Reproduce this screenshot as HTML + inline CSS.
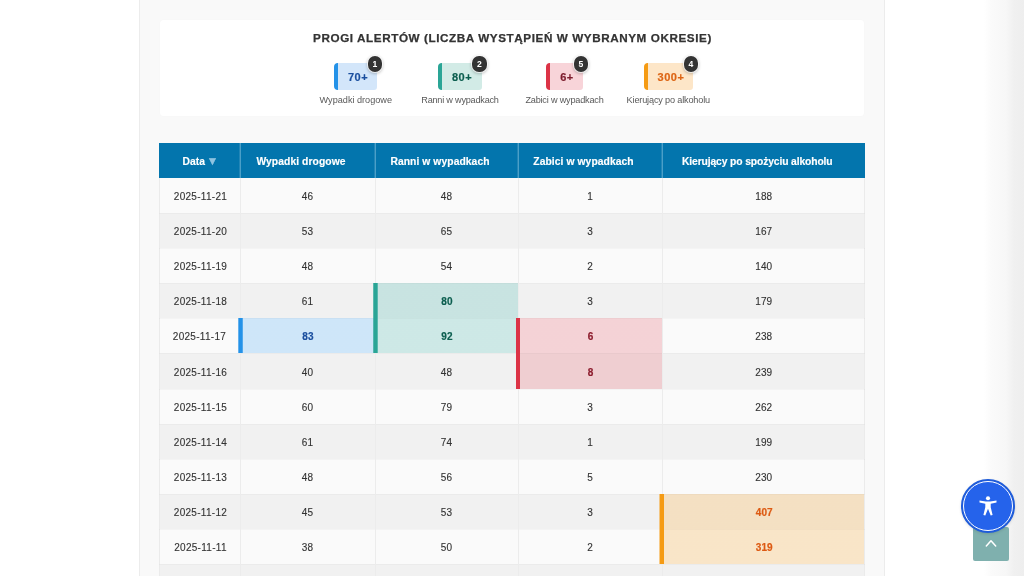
<!DOCTYPE html>
<html lang="pl">
<head>
<meta charset="utf-8">
<title>Progi alertów</title>
<style>
*{box-sizing:border-box;margin:0;padding:0}
html,body{width:1024px;height:576px;overflow:hidden;background:#fff}
body{font-family:"Liberation Sans",sans-serif;color:#333;position:relative}
.edge{position:absolute;right:0;top:0;width:40px;height:576px;background:linear-gradient(to right,#fff 0,#fafafa 8px,#f7f7f7 22px,#f0f0f0 30px,#eee 40px)}
.wrap{position:absolute;left:139px;top:-10px;width:746px;height:600px;background:#f9f9f9;border:1px solid #ececec}
.card{position:absolute;left:160px;top:20px;width:704px;height:96px;background:#fff;border-radius:3.5px;box-shadow:0 0 2px rgba(0,0,0,.02)}
.title{position:absolute;left:160px;width:704px;top:29.6px;text-align:center;font-weight:bold;font-size:11.7px;letter-spacing:.58px;padding-left:1px;-webkit-text-stroke:.25px;color:#333;line-height:16px;white-space:nowrap}
.th{position:absolute;top:63px;height:27px;border-left:4px solid;border-radius:4px 3px 3px 4px;font-weight:bold;font-size:11px;line-height:29px;text-align:center;letter-spacing:.5px;padding-left:1px;-webkit-text-stroke:.2px}
.th i{position:absolute;right:-5.2px;top:-7.1px;width:14.6px;height:16.2px;border-radius:7px;background:#333;color:#fff;font-style:normal;font-size:8.6px;line-height:17.2px;text-align:center;letter-spacing:0;padding:0;-webkit-text-stroke:0;box-shadow:0 0 0 1px rgba(255,255,255,.7),0 1px 3px 1px rgba(0,0,0,.22)}
.lb{position:absolute;top:94.4px;width:140px;text-align:center;font-size:9.15px;color:#595959;line-height:12px;white-space:nowrap}
.t1{left:334px;width:43px;background:#d3e6fa;border-color:#2492e8;color:#1b4f9f}
.t2{left:438px;width:44px;background:#d2ebe6;border-color:#2aa596;color:#0d5f50}
.t3{left:546px;width:37px;background:#f8d4d9;border-color:#dc3346;color:#7d1c2d}
.t4{left:644px;width:49px;background:#fde6c8;border-color:#f59b14;color:#dd6413}
table{position:absolute;left:159px;top:143px;width:706px;border-collapse:collapse;table-layout:fixed;font-size:10px}
td{letter-spacing:.1px;-webkit-text-stroke:.12px}
td:first-child{padding-left:2.5px;letter-spacing:.3px}
th{height:35px;background:#0375ad;color:#fff;font-weight:bold;font-size:10.3px;letter-spacing:.08px;-webkit-text-stroke:.15px;text-align:center;border-left:1px solid #4a9fc8;vertical-align:middle;padding:2px 13px 0 0}
th:first-child{padding-right:0;padding-left:2.5px}
th{box-shadow:inset -1px 0 0 rgba(255,255,255,.13)}
th:first-child{border-left:none}
th:last-child{box-shadow:none;letter-spacing:-.11px}
th span{color:#8fc3e0;font-size:12px;line-height:10px;margin-left:1.5px}
td{height:35px;padding-top:1.5px;text-align:center;vertical-align:middle;border-left:1px solid #ececec;color:#333}
td{box-shadow:inset 0 1px 0 rgba(0,0,0,.022)}
td:first-child{border-left:none;box-shadow:inset 0 1px 0 rgba(0,0,0,.022),inset 1px 0 0 #ebebeb}
tr:nth-child(6) td{height:36px;padding-top:2.5px}
tbody tr:first-child td{box-shadow:none}
tbody tr:first-child td:first-child{box-shadow:inset 1px 0 0 #ebebeb}
tbody tr:first-child td:last-child{box-shadow:inset -1px 0 0 #ebebeb}
td:last-child{box-shadow:inset 0 1px 0 rgba(0,0,0,.022),inset -1px 0 0 #ebebeb}
tr:nth-child(odd) td{background:#fafafa}
tr:nth-child(even) td{background:#f1f1f1}
td.b,td.g,td.r,td.o{font-weight:bold;position:relative;-webkit-text-stroke:.2px;padding-left:1px}
td.b:before,td.g:before,td.r:before,td.o:before{content:"";position:absolute;top:0;bottom:0;left:-3px;width:5px}
tr td.b{background-image:linear-gradient(rgba(33,150,243,.2),rgba(33,150,243,.2));color:#1b4f9f}
tr td.g{background-image:linear-gradient(rgba(38,166,154,.21),rgba(38,166,154,.21));color:#0d5f50}
tr td.r{background-image:linear-gradient(rgba(220,53,69,.2),rgba(220,53,69,.2));color:#8c1c2d}
tr td.o{background-image:linear-gradient(rgba(245,155,20,.22),rgba(245,155,20,.22));color:#dd5a13}
tr:nth-child(even) td.g,tr:nth-child(even) td.r,tr:nth-child(even) td.o,tr:nth-child(even) td.b{background-color:#f4f4f4}
tbody tr:nth-child(5) td:first-child{padding-left:.5px}
td.b:before{background:linear-gradient(to right,rgba(36,146,232,.7) 1px,#2492e8 1px,#2492e8 4px,rgba(36,146,232,.75) 4px)}
td.g:before{background:linear-gradient(to right,rgba(42,165,150,.75) 1px,#2aa596 1px,#2aa596 4px,rgba(42,165,150,.7) 4px)}
td.r:before{background:#dc3346;width:4px}
td.o:before{left:-4px;background:linear-gradient(to right,rgba(245,155,20,.5) 1px,#f59b14 1px)}
.acc{position:absolute;left:960.5px;top:479px;width:54px;height:54px;border-radius:50%;background:#2563eb;border:2.2px solid #1f5cd9;box-shadow:0 1px 3px rgba(0,0,0,.12)}
.acc:before{content:"";position:absolute;left:0;top:0;right:0;bottom:0;border:1.7px solid #fff;border-radius:50%}
.acc svg{position:absolute;left:15.3px;top:12.8px;width:20px;height:22px}
.up{position:absolute;left:973px;top:527px;width:36px;height:34px;background:#7fb0ae;border-radius:2px}
.up svg{position:absolute;left:12px;top:12px;width:13px;height:9px}
.t2 i{right:-4.6px}
.t2{padding-left:0}
</style>
</head>
<body>
<div class="edge"></div>
<div class="wrap"></div>
<div class="card"></div>
<div class="title">PROGI ALERTÓW (LICZBA WYSTĄPIEŃ W WYBRANYM OKRESIE)</div>
<div class="th t1">70+<i>1</i></div>
<div class="th t2">80+<i>2</i></div>
<div class="th t3">6+<i>5</i></div>
<div class="th t4">300+<i>4</i></div>
<div class="lb" style="left:285.8px">Wypadki drogowe</div>
<div class="lb" style="left:390px;letter-spacing:-.22px">Ranni w wypadkach</div>
<div class="lb" style="left:494.5px;letter-spacing:-.19px">Zabici w wypadkach</div>
<div class="lb" style="left:598.3px;letter-spacing:-.16px">Kierujący po alkoholu</div>
<table>
<colgroup><col style="width:81px"><col style="width:135px"><col style="width:143px"><col style="width:144px"><col style="width:203px"></colgroup>
<thead><tr><th>Data<span>▼</span></th><th>Wypadki drogowe</th><th>Ranni w wypadkach</th><th>Zabici w wypadkach</th><th>Kierujący po spożyciu alkoholu</th></tr></thead>
<tbody>
<tr><td>2025-11-21</td><td>46</td><td>48</td><td>1</td><td>188</td></tr>
<tr><td>2025-11-20</td><td>53</td><td>65</td><td>3</td><td>167</td></tr>
<tr><td>2025-11-19</td><td>48</td><td>54</td><td>2</td><td>140</td></tr>
<tr><td>2025-11-18</td><td>61</td><td class="g">80</td><td>3</td><td>179</td></tr>
<tr><td>2025-11-17</td><td class="b">83</td><td class="g">92</td><td class="r">6</td><td>238</td></tr>
<tr><td>2025-11-16</td><td>40</td><td>48</td><td class="r">8</td><td>239</td></tr>
<tr><td>2025-11-15</td><td>60</td><td>79</td><td>3</td><td>262</td></tr>
<tr><td>2025-11-14</td><td>61</td><td>74</td><td>1</td><td>199</td></tr>
<tr><td>2025-11-13</td><td>48</td><td>56</td><td>5</td><td>230</td></tr>
<tr><td>2025-11-12</td><td>45</td><td>53</td><td>3</td><td class="o">407</td></tr>
<tr><td>2025-11-11</td><td>38</td><td>50</td><td>2</td><td class="o">319</td></tr>
<tr><td>2025-11-10</td><td>42</td><td>51</td><td>2</td><td>201</td></tr>
</tbody>
</table>
<div class="up"><svg viewBox="0 0 13 9"><path d="M1.3 7 L6 1.7 L10.7 7" fill="none" stroke="#fff" stroke-width="1.5" stroke-linecap="round" stroke-linejoin="round"/></svg></div>
<div class="acc"><svg viewBox="0 0 20 22"><circle cx="10" cy="4.3" r="2.05" fill="#fff"/><path d="M1.5 6.6 L7.8 7.5 L12.2 7.5 L18.5 6.6 L18.5 8.4 L12.7 9.8 L12.7 13.2 L14.6 21 L12.7 21.4 L10 14.8 L7.3 21.4 L5.4 21 L7.3 13.2 L7.3 9.8 L1.5 8.4 Z" fill="#fff"/></svg></div>
</body>
</html>
